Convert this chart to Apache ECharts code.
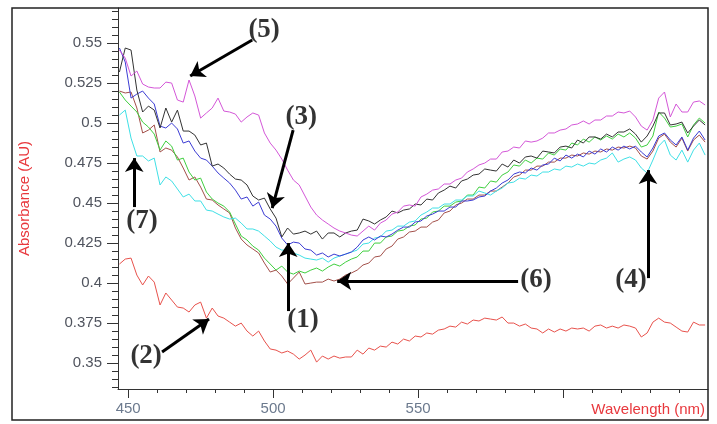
<!DOCTYPE html>
<html>
<head>
<meta charset="utf-8">
<script src="https://cdn.jsdelivr.net/npm/echarts@6/dist/echarts.min.js"></script>
<style>
html,body{margin:0;padding:0;background:#fff;}
#chart{width:717px;height:424px;}
</style>
</head>
<body>
<div id="chart"></div>
<script>
// Wavelength (nm) sample positions
const wavelength = [447,449,451,453,455,457,459,461,463,465,467,469,471,473,475,477,479,481,483,485,
487,489,491,493,495,497,499,501,503,505,507,509,511,513,515,517,519,521,523,525,
527,529,531,533,535,537,539,541,543,545,547,549,551,553,555,557,559,561,563,565,
567,569,571,573,575,577,579,581,583,585,587,589,591,593,595,597,599,601,603,605,
607,609,611,613,615,617,619,621,623,625,627,629,631,633,635,637,639,641,643,645,
647,649];

// Absorbance (AU) of each spectrum
const absMagenta = [0.5456,0.5406,0.5294,0.5325,0.5244,0.5225,0.5219,0.5219,0.5256,0.5250,
0.5144,0.5131,0.5269,0.5169,0.5031,0.5063,0.5094,0.5156,0.5075,0.5069,
0.5056,0.5006,0.5038,0.5063,0.5050,0.4938,0.4875,0.4831,0.4775,0.4706,
0.4644,0.4613,0.4544,0.4475,0.4425,0.4394,0.4369,0.4344,0.4325,0.4313,
0.4300,0.4294,0.4325,0.4356,0.4331,0.4375,0.4394,0.4431,0.4444,0.4481,
0.4488,0.4481,0.4538,0.4556,0.4581,0.4588,0.4619,0.4619,0.4644,0.4656,
0.4694,0.4713,0.4738,0.4750,0.4775,0.4775,0.4819,0.4825,0.4850,0.4844,
0.4888,0.4881,0.4888,0.4906,0.4938,0.4938,0.4956,0.4963,0.4988,0.4994,
0.5013,0.4994,0.5019,0.5019,0.5044,0.5044,0.5069,0.5063,0.5075,0.5038,
0.4981,0.4956,0.5019,0.5156,0.5194,0.5038,0.5119,0.5069,0.5069,0.5131,
0.5138,0.5113];
const absBlack = [0.5319,0.5469,0.5456,0.5206,0.5069,0.5106,0.5081,0.4969,0.5094,0.5006,
0.5081,0.4950,0.4950,0.4925,0.4863,0.4875,0.4731,0.4744,0.4719,0.4681,
0.4650,0.4644,0.4613,0.4544,0.4519,0.4531,0.4463,0.4406,0.4288,0.4344,
0.4306,0.4313,0.4325,0.4306,0.4325,0.4275,0.4313,0.4313,0.4288,0.4313,
0.4325,0.4331,0.4400,0.4388,0.4369,0.4394,0.4413,0.4450,0.4438,0.4456,
0.4463,0.4494,0.4488,0.4525,0.4519,0.4563,0.4581,0.4606,0.4594,0.4638,
0.4650,0.4675,0.4681,0.4713,0.4706,0.4700,0.4744,0.4725,0.4769,0.4750,
0.4788,0.4794,0.4781,0.4825,0.4819,0.4813,0.4850,0.4856,0.4844,0.4894,
0.4875,0.4913,0.4913,0.4900,0.4931,0.4913,0.4944,0.4944,0.4963,0.4931,
0.4881,0.4919,0.4981,0.5063,0.5063,0.4988,0.4994,0.5006,0.4938,0.4981,
0.5019,0.4988];
const absBlue = [0.5469,0.5381,0.5156,0.5181,0.5200,0.5156,0.5119,0.4981,0.4969,0.5000,
0.4963,0.4875,0.4888,0.4825,0.4781,0.4769,0.4731,0.4688,0.4656,0.4625,
0.4581,0.4525,0.4538,0.4481,0.4506,0.4425,0.4400,0.4356,0.4281,0.4238,
0.4256,0.4250,0.4213,0.4206,0.4175,0.4188,0.4163,0.4181,0.4169,0.4181,
0.4194,0.4225,0.4269,0.4288,0.4269,0.4294,0.4288,0.4306,0.4331,0.4350,
0.4350,0.4381,0.4388,0.4419,0.4431,0.4450,0.4450,0.4475,0.4475,0.4513,
0.4513,0.4519,0.4538,0.4544,0.4575,0.4594,0.4625,0.4644,0.4681,0.4694,
0.4688,0.4719,0.4706,0.4738,0.4744,0.4781,0.4763,0.4800,0.4781,0.4806,
0.4788,0.4825,0.4806,0.4838,0.4819,0.4850,0.4831,0.4856,0.4838,0.4856,
0.4819,0.4788,0.4844,0.4919,0.4938,0.4894,0.4863,0.4913,0.4831,0.4906,
0.4950,0.4894];
const absGreen = [0.5194,0.5144,0.5106,0.5069,0.5006,0.4975,0.4931,0.4831,0.4888,0.4856,
0.4769,0.4781,0.4694,0.4644,0.4656,0.4569,0.4525,0.4500,0.4481,0.4444,
0.4369,0.4294,0.4269,0.4231,0.4206,0.4156,0.4119,0.4081,0.4106,0.4069,
0.4056,0.4075,0.4063,0.4081,0.4094,0.4075,0.4100,0.4119,0.4106,0.4131,
0.4150,0.4163,0.4200,0.4200,0.4250,0.4250,0.4288,0.4294,0.4325,0.4331,
0.4356,0.4363,0.4400,0.4406,0.4444,0.4450,0.4481,0.4481,0.4506,0.4513,
0.4550,0.4550,0.4600,0.4594,0.4638,0.4631,0.4675,0.4694,0.4738,0.4731,
0.4769,0.4750,0.4781,0.4775,0.4813,0.4800,0.4838,0.4831,0.4875,0.4863,
0.4900,0.4881,0.4913,0.4894,0.4919,0.4900,0.4931,0.4913,0.4938,0.4906,
0.4850,0.4863,0.4919,0.5069,0.5031,0.4975,0.4981,0.4994,0.4913,0.4988,
0.5031,0.5000];
const absCyan = [0.5050,0.5081,0.4906,0.4794,0.4794,0.4763,0.4781,0.4613,0.4663,0.4638,
0.4588,0.4538,0.4556,0.4513,0.4513,0.4456,0.4450,0.4431,0.4413,0.4400,
0.4406,0.4375,0.4338,0.4338,0.4325,0.4294,0.4263,0.4225,0.4206,0.4206,
0.4188,0.4175,0.4156,0.4150,0.4144,0.4156,0.4131,0.4156,0.4169,0.4181,
0.4194,0.4206,0.4244,0.4250,0.4281,0.4288,0.4325,0.4331,0.4356,0.4356,
0.4381,0.4388,0.4425,0.4444,0.4469,0.4469,0.4494,0.4494,0.4519,0.4519,
0.4544,0.4544,0.4575,0.4563,0.4550,0.4575,0.4594,0.4625,0.4631,0.4656,
0.4650,0.4675,0.4669,0.4694,0.4694,0.4713,0.4706,0.4731,0.4725,0.4744,
0.4731,0.4750,0.4744,0.4769,0.4781,0.4813,0.4756,0.4775,0.4788,0.4769,
0.4719,0.4688,0.4769,0.4856,0.4894,0.4800,0.4769,0.4831,0.4756,0.4831,
0.4875,0.4800];
const absBrown = [0.5200,0.5188,0.5194,0.5094,0.4938,0.4956,0.4988,0.4819,0.4844,0.4831,
0.4788,0.4719,0.4644,0.4663,0.4600,0.4525,0.4519,0.4488,0.4463,0.4438,
0.4344,0.4275,0.4238,0.4213,0.4188,0.4125,0.4069,0.4081,0.4044,0.3994,
0.4031,0.4069,0.3994,0.4000,0.4006,0.4006,0.4025,0.4013,0.4025,0.4050,
0.4063,0.4081,0.4113,0.4125,0.4163,0.4169,0.4213,0.4231,0.4275,0.4288,
0.4319,0.4325,0.4350,0.4350,0.4381,0.4394,0.4438,0.4450,0.4488,0.4500,
0.4525,0.4525,0.4550,0.4550,0.4575,0.4575,0.4600,0.4625,0.4663,0.4675,
0.4706,0.4706,0.4731,0.4731,0.4756,0.4756,0.4781,0.4781,0.4800,0.4794,
0.4813,0.4806,0.4825,0.4819,0.4838,0.4831,0.4850,0.4844,0.4856,0.4844,
0.4794,0.4775,0.4825,0.4906,0.4931,0.4881,0.4850,0.4906,0.4825,0.4894,
0.4925,0.4881];
const absRed = [0.4119,0.4150,0.4156,0.4050,0.3988,0.4044,0.4006,0.3863,0.3938,0.3894,
0.3850,0.3844,0.3819,0.3863,0.3881,0.3781,0.3844,0.3794,0.3781,0.3756,
0.3731,0.3750,0.3700,0.3669,0.3700,0.3638,0.3588,0.3581,0.3563,0.3575,
0.3556,0.3525,0.3550,0.3581,0.3506,0.3544,0.3525,0.3544,0.3531,0.3538,
0.3538,0.3581,0.3556,0.3594,0.3581,0.3606,0.3600,0.3631,0.3619,0.3650,
0.3638,0.3669,0.3663,0.3688,0.3681,0.3706,0.3713,0.3731,0.3725,0.3756,
0.3744,0.3769,0.3763,0.3781,0.3775,0.3769,0.3788,0.3750,0.3750,0.3731,
0.3744,0.3719,0.3713,0.3688,0.3713,0.3694,0.3713,0.3700,0.3719,0.3713,
0.3719,0.3700,0.3731,0.3738,0.3719,0.3731,0.3719,0.3738,0.3731,0.3719,
0.3663,0.3688,0.3756,0.3781,0.3756,0.3750,0.3725,0.3700,0.3694,0.3756,
0.3738,0.3738];

// Axis ticks and labels
const xMajorTicks = [450,500,550,600];
const xTickLabels = [450,500,550];
const xMinorTicks = [460,470,480,490,510,520,530,540,560,570,580,590,610,620,630,640];
const yTickLabels = [0.35,0.375,0.4,0.425,0.45,0.475,0.5,0.525,0.55];
const yMinorTicks = [0.335,0.34,0.345,0.355,0.36,0.365,0.37,0.38,0.385,0.39,0.395,0.405,0.41,0.415,0.42,
0.43,0.435,0.44,0.445,0.455,0.46,0.465,0.47,0.48,0.485,0.49,0.495,0.505,0.51,0.515,0.52,
0.53,0.535,0.54,0.545,0.555,0.56,0.565,0.57];

// Annotations (data units): labels, arrow tails, arrow heads
const annotationLabels = ['(1)','(2)','(3)','(4)','(5)','(6)','(7)'];
const labelAt = [[510.3,0.3769],[456.2,0.3544],[509.7,0.5038],[623.4,0.4019],[496.9,0.5581],[590.7,0.4019],[454.8,0.4388]];
const arrowFrom = [[505.2,0.3825],[461.7,0.3569],[506.9,0.4956],[629.3,0.4031],[492.8,0.5519],[584.5,0.4013],[452.1,0.4475]];
const arrowTo = [[505.2,0.4250],[477.9,0.3775],[499.7,0.4469],[629.3,0.4706],[471.4,0.5294],[522.1,0.4013],[452.1,0.4781]];

const spectra = [
  {name:'(2)', values:absRed, color:'#e8524c'},
  {name:'(6)', values:absBrown, color:'#a3504a'},
  {name:'green', values:absGreen, color:'#3fcf3f'},
  {name:'(4)', values:absCyan, color:'#3fe0e6'},
  {name:'(1)', values:absBlue, color:'#3c3cd4'},
  {name:'(3)', values:absBlack, color:'#333333'},
  {name:'(5)', values:absMagenta, color:'#d457d8'}
];

const X_MIN = 446.5, X_MAX = 650, Y_MIN = 0.3338, Y_MAX = 0.5719;
const FONT = 'Liberation Sans, Arial, sans-serif';

const chart = echarts.init(document.getElementById('chart'), null, {renderer:'canvas'});

const series = spectra.map(s => ({
  type:'line', name:s.name, xAxisIndex:0, yAxisIndex:0,
  data: wavelength.map((w,i) => [w, s.values[i]]),
  showSymbol:false, symbol:'none', smooth:false,
  lineStyle:{color:s.color, width:1}, itemStyle:{color:s.color},
  silent:true, animation:false
}));

series.push({
  type:'scatter', name:'annotations', xAxisIndex:0, yAxisIndex:0,
  symbolSize:1, itemStyle:{color:'rgba(0,0,0,0)'}, silent:true, z:10,
  data: annotationLabels.map((t,i) => ({name:t, value:labelAt[i]})),
  label:{show:true, position:'inside', formatter:'{b}', color:'#000', textBorderWidth:0,
    fontFamily:'Liberation Serif, Times New Roman, serif', fontWeight:'bold', fontSize:27},
  markLine:{
    silent:true, animation:false, symbol:['none','arrow'], symbolSize:14, precision:4,
    itemStyle:{color:'#000'},
    lineStyle:{color:'#000', width:3, type:'solid'}, label:{show:false},
    data: arrowFrom.map((f,i) => [{coord:f}, {coord:arrowTo[i]}])
  }
});

const option = {
  animation:false,
  backgroundColor:'#ffffff',
  grid:{left:118, top:8, right:9, bottom:35, containLabel:false},
  xAxis:[
    {type:'value', min:X_MIN, max:X_MAX, position:'bottom',
     axisLine:{show:true, lineStyle:{color:'#333', width:1}},
     axisTick:{show:true, length:9, customValues:xMajorTicks, lineStyle:{color:'#333'}},
     axisLabel:{show:true, customValues:xTickLabels, margin:12, color:'#6c7a8e', fontSize:15, fontFamily:FONT},
     splitLine:{show:false},
     name:'Wavelength (nm)', nameLocation:'end', nameGap:-3,
     nameTextStyle:{color:'#e8383d', fontSize:15, fontFamily:FONT, align:'right', verticalAlign:'top', padding:[13,0,0,0]}},
    {type:'value', min:X_MIN, max:X_MAX, position:'bottom', offset:0,
     axisLine:{show:false}, axisLabel:{show:false}, splitLine:{show:false},
     axisTick:{show:true, length:4, customValues:xMinorTicks, lineStyle:{color:'#333'}}}
  ],
  yAxis:[
    {type:'value', min:Y_MIN, max:Y_MAX, position:'left',
     axisLine:{show:true, lineStyle:{color:'#333', width:1}},
     axisTick:{show:true, length:11, customValues:yTickLabels, lineStyle:{color:'#333'}},
     axisLabel:{show:true, customValues:yTickLabels, margin:16, color:'#50545e', fontSize:15, fontFamily:FONT},
     splitLine:{show:false},
     name:'Absorbance (AU)', nameLocation:'middle', nameGap:86,
     nameTextStyle:{color:'#e8383d', fontSize:15, fontFamily:FONT}},
    {type:'value', min:Y_MIN, max:Y_MAX, position:'left', offset:0,
     axisLine:{show:false}, axisLabel:{show:false}, splitLine:{show:false},
     axisTick:{show:true, length:6, customValues:yMinorTicks, lineStyle:{color:'#333'}}}
  ],
  graphic:[
    {type:'rect', silent:true, z:100, shape:{x:12, y:8, width:696, height:412},
     style:{fill:'none', stroke:'#222', lineWidth:1.5}}
  ],
  series: series
};
chart.setOption(option);
</script>
</body>
</html>
